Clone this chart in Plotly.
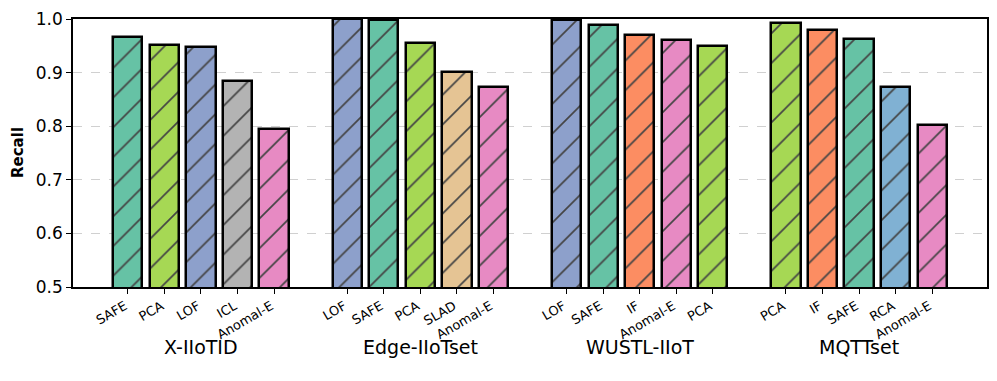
import plotly.graph_objects as go

# recall per dataset, methods in plotting order
datasets = ['X-IIoTID', 'Edge-IIoTset', 'WUSTL-IIoT', 'MQTTset']

methods_xiiotid = ['SAFE', 'PCA', 'LOF', 'ICL', 'Anomal-E']
recall_xiiotid = [0.967, 0.951, 0.947, 0.884, 0.795]

methods_edge = ['LOF', 'SAFE', 'PCA', 'SLAD', 'Anomal-E']
recall_edge = [1.0, 0.999, 0.956, 0.902, 0.873]

methods_wustl = ['LOF', 'SAFE', 'IF', 'Anomal-E', 'PCA']
recall_wustl = [0.999, 0.988, 0.970, 0.960, 0.950]

methods_mqtt = ['PCA', 'IF', 'SAFE', 'RCA', 'Anomal-E']
recall_mqtt = [0.992, 0.979, 0.963, 0.873, 0.802]

colors = {
    'SAFE': '#66c2a5', 'PCA': '#a6d854', 'LOF': '#8da0cb', 'ICL': '#b3b3b3',
    'Anomal-E': '#e78ac3', 'SLAD': '#e5c494', 'IF': '#fc8d62', 'RCA': '#80b1d3',
}

groups = [
    (methods_xiiotid, recall_xiiotid),
    (methods_edge, recall_edge),
    (methods_wustl, recall_wustl),
    (methods_mqtt, recall_mqtt),
]

xs, ys, names, cols = [], [], [], []
for g, (meths, vals) in enumerate(groups):
    for i, (m, v) in enumerate(zip(meths, vals)):
        xs.append(g * 6 + i)
        ys.append(v)
        names.append(m)
        cols.append(colors[m])

fig = go.Figure()
fig.add_trace(go.Bar(
    x=xs, y=ys, width=0.8,
    marker=dict(color=cols, line=dict(color='black', width=2.5),
                pattern=dict(shape='/', fgcolor='black', fgopacity=1,
                             size=21, solidity=0.08)),
    showlegend=False,
))

for g, name in enumerate(datasets):
    fig.add_annotation(x=g * 6 + 2, y=0, xref='x', yref='paper', text=name,
                       showarrow=False, yanchor='middle', yshift=-60,
                       font=dict(size=19, color='black'))

# y title placed by hand so the plot area keeps its size
fig.add_annotation(x=0, y=0.5, xref='paper', yref='paper', text='<b>Recall</b>',
                   showarrow=False, textangle=-90, xanchor='center', xshift=-55,
                   font=dict(size=15, color='black'))

# page body has an 8px margin, so the figure is 8px smaller and margins shifted
fig.update_layout(
    width=989, height=373,
    margin=dict(l=65, r=10, t=11, b=94, autoexpand=False),
    plot_bgcolor='white', paper_bgcolor='white',
    font=dict(family='DejaVu Sans', color='black'),
    bargap=0,
)
fig.update_xaxes(
    range=[-1.5, 23.5], tickvals=xs, ticktext=names, tickangle=-30,
    tickfont=dict(size=13), ticks='outside', ticklen=5, tickcolor='black',
    ticklabelshift=-3, ticklabelstandoff=0,
    showline=True, linecolor='black', linewidth=1.5, mirror=True, showgrid=False,
    automargin=False,
)
fig.update_yaxes(
    range=[0.5, 1.0], dtick=0.1, tickformat='.1f', tickfont=dict(size=17),
    ticks='outside', ticklen=5, tickcolor='black', ticklabeloverflow='allow',
    showline=True, linecolor='black', linewidth=1.5, mirror=True,
    showgrid=True, gridcolor='#d0d0d0', griddash='dash', gridwidth=1,
    zeroline=False, automargin=False,
)

fig.write_html("out.html")
